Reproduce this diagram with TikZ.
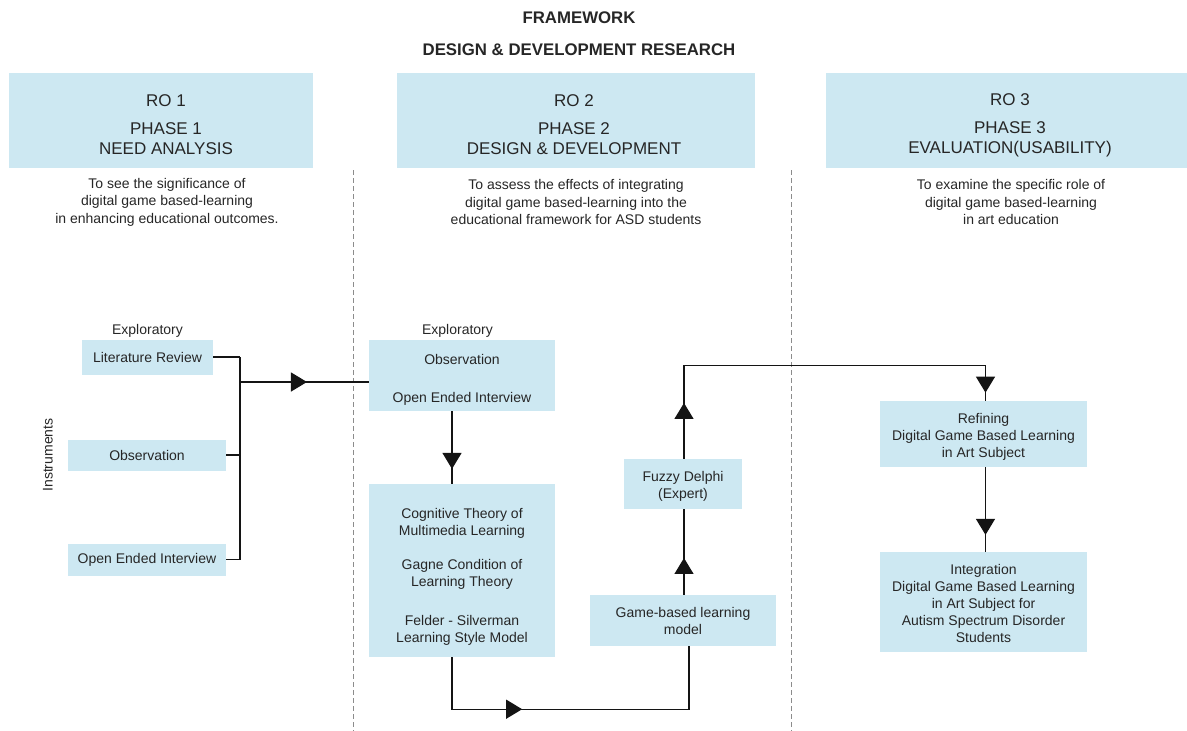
\documentclass[tikz,border=0pt]{standalone}
\usepackage{fontspec}
\setmainfont{Liberation Sans}
\usetikzlibrary{arrows.meta,decorations.markings}

\definecolor{boxblue}{RGB}{205,232,242}
\definecolor{inkcol}{RGB}{38,38,38}
\definecolor{wirecol}{RGB}{20,20,20}
\definecolor{dashcol}{RGB}{140,140,140}

% pushes a multi-line box text down by half of (#1 - first line height)
\newcommand{\toppad}[1]{\rule{0pt}{#1}}

\begin{document}
\begin{tikzpicture}[x=1pt,y=-1pt,
  every node/.style={text=inkcol},
  bluebox/.style={fill=boxblue, inner sep=0pt, align=center, font=\fontsize{14}{17}\selectfont},
  txt/.style={align=center, inner sep=0pt, font=\fontsize{14}{17.5}\selectfont},
  hdrtxt/.style={align=center, inner sep=0pt, font=\fontsize{17}{20}\selectfont},
  titletxt/.style={inner sep=0pt, font=\bfseries\fontsize{16.8}{20}\selectfont},
  wire/.style={draw=wirecol, line width=1.3pt},
  midtri/.style={postaction={decorate}, decoration={markings,
      mark=at position #1 with {\arrow{Triangle[length=16pt,width=19pt]}}}},
  twotri/.style 2 args={postaction={decorate}, decoration={markings,
      mark=at position #1 with {\arrow{Triangle[length=16pt,width=19pt]}},
      mark=at position #2 with {\arrow{Triangle[length=16pt,width=19pt]}}}},
  divider/.style={draw=dashcol, line width=0.8pt, dash pattern=on 5pt off 3pt}
]
\useasboundingbox (0,0) rectangle (1187,731);

% titles
\node[titletxt] (title) at (579,18) {FRAMEWORK};
\node[titletxt] (subtitle) at (579,50) {DESIGN \& DEVELOPMENT RESEARCH};

% phase headers
\node[bluebox, minimum width=304, minimum height=95] (h1) at (161,120.5) {};
\node[bluebox, minimum width=358, minimum height=95] (h2) at (576,120.5) {};
\node[bluebox, minimum width=361, minimum height=95] (h3) at (1006.5,120.5) {};
\node[hdrtxt] (h1t) at (166,125) {RO 1\\[8pt]PHASE 1\\NEED ANALYSIS};
\node[hdrtxt] (h2t) at (574,125) {RO 2\\[8pt]PHASE 2\\DESIGN \& DEVELOPMENT};
\node[hdrtxt] (h3t) at (1010,125) {RO 3\\[8pt]PHASE 3\\EVALUATION(USABILITY)};

% objectives
\node[txt] (d1) at (167,202) {To see the significance of\\digital game based-learning\\in enhancing educational outcomes.};
\node[txt] (d2) at (576,202) {To assess the effects of integrating\\digital game based-learning into the\\educational framework for ASD students};
\node[txt] (d3) at (1011,202) {To examine the specific role of\\digital game based-learning\\in art education};

% column dividers
\draw[divider] (353,170) -- (353,731);
\draw[divider] (791,170) -- (791,731);

% phase 1 instruments
\node[txt] (exp1) at (147.5,331) {Exploratory};
\node[bluebox, minimum width=131, minimum height=35] (lit) at (147.5,357) {Literature Review};
\node[bluebox, minimum width=158, minimum height=31] (obs1) at (147,455) {Observation};
\node[bluebox, minimum width=158, minimum height=32] (oei1) at (147,559.5) {Open Ended Interview};
\node[txt, rotate=90] (instr) at (48,455) {Instruments};

% phase 2
\node[txt] (exp2) at (457.5,331) {Exploratory};
\node[bluebox, minimum width=186, minimum height=71] (obs2) at (462,375.5) {\toppad{18pt}Observation\\[21pt]Open Ended Interview};
\node[bluebox, minimum width=186, minimum height=173] (theory) at (462,570.5)
  {\toppad{22pt}Cognitive Theory of\\Multimedia Learning\\[17pt]Gagne Condition of\\Learning Theory\\[22pt]Felder - Silverman\\Learning Style Model};
\node[bluebox, minimum width=186, minimum height=51] (game) at (683,620.5) {\toppad{12pt}Game-based learning\\model};
\node[bluebox, minimum width=118, minimum height=50] (fuzzy) at (683,484) {\toppad{14pt}Fuzzy Delphi\\(Expert)};

% phase 3
\node[bluebox, minimum width=207, minimum height=66] (refine) at (983.5,434)
  {\toppad{16pt}Refining\\Digital Game Based Learning\\in Art Subject};
\node[bluebox, minimum width=207, minimum height=100] (integ) at (983.5,602)
  {\toppad{13pt}Integration\\Digital Game Based Learning\\in Art Subject for\\Autism Spectrum Disorder\\Students};

% connectors
\coordinate (jn) at (240,382);
\draw[wire] (lit.east) -- (lit.east -| jn);
\draw[wire] (obs1.east) -- (obs1.east -| jn);
\draw[wire] (oei1.east) -- (oei1.east -| jn);
\draw[wire] (lit.east -| jn) -- (oei1.east -| jn);
\draw[wire, midtri=0.52] (jn) -- (jn -| obs2.west);

\draw[wire, midtri=0.795] ([xshift=-10pt]obs2.south) -- ([xshift=-10pt]theory.north);
\draw[wire, midtri=0.347] ([xshift=-10pt]theory.south) -- ++(0,52) -| ([xshift=6pt]game.south);
\draw[wire, midtri=0.43] ([xshift=1pt]game.north) -- ([xshift=1pt]fuzzy.south);
\draw[wire, twotri={0.130}{0.981}] ([xshift=1pt]fuzzy.north) -- ++(0,-93) -| ([xshift=2pt]refine.north);
\draw[wire, midtri=0.8] ([xshift=2pt]refine.south) -- ([xshift=2pt]integ.north);
\end{tikzpicture}
\end{document}
